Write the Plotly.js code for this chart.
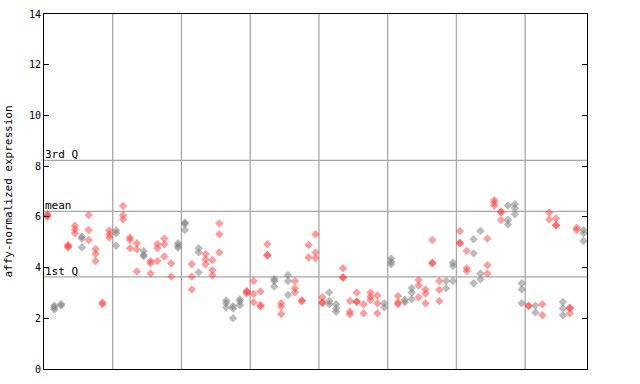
<!DOCTYPE html>
<html><head><meta charset="utf-8">
<script src="https://cdn.plot.ly/plotly-3.0.1.min.js"></script>
<style>html,body{margin:0;padding:0;background:#fff}#chart{width:640px;height:384px}</style>
</head><body><div id="chart"></div>
<script>
// expression values per sample column (1..79)
const columnValues = [
  [6.05,6.1,6.0],[2.5,2.35,2.43],[2.56,2.5],[4.89,4.8,4.84],[5.65,5.5,5.35],
  [5.22,5.15,4.8],[6.07,5.48,5.09],[4.73,4.54,4.26],[2.62,2.55],[5.46,5.31,5.19],
  [5.46,5.35,4.86],[6.43,6.06,5.9],[5.19,5.09,4.76],[4.96,4.72,3.85],[4.65,4.5,4.45],
  [4.26,4.17,3.77],[4.93,4.76,4.26],[5.15,4.92,4.44],[4.17,3.65],[4.96,4.86,4.78],
  [5.78,5.72,5.48],[4.13,3.65,3.14],[4.76,4.6,3.81],[4.54,4.33,4.13],[4.3,3.9,3.7],
  [5.74,5.31,4.6],[2.7,2.59,2.43],[2.48,2.39,2.0],[2.75,2.66,2.52],[3.08,2.98,3.05],
  [3.47,2.96,2.63],[3.06,2.52,2.46],[4.92,4.5,4.48],[3.55,3.47,3.25],[2.59,2.46,2.17],
  [3.71,3.47,2.92],[3.47,3.18,3.02],[2.7,2.68],[4.89,4.4],[5.31,4.59,4.37],
  [2.83,2.62,2.6],[3.02,2.68,2.55],[2.55,2.39,2.26],[3.97,3.6,3.62],[2.68,2.26,2.16],
  [3.02,2.66,2.64],[2.55,2.2],[3.02,2.85,2.72],[2.9,2.59,2.2],[2.59,2.43],
  [4.36,4.23,4.13],[2.88,2.62,2.55],[2.72,2.63],[3.19,3.02,2.75],[3.51,3.29,2.83],
  [3.14,2.98,2.59],[5.09,4.19,4.17],[3.47,3.12,2.68],[3.47,3.18],[4.19,4.06,3.47],
  [5.44,4.98,4.96],[4.65,3.97,3.86],[5.12,4.56,3.38],[5.44,3.77,3.54],[5.15,4.09,3.77],
  [6.66,6.56,6.44],[6.2,6.18,5.88],[6.45,5.88,5.7],[6.5,6.34,6.1],[3.38,3.14,2.59],
  [2.5,2.48],[2.5,2.23],[2.55,2.12],[6.17,5.9],[5.94,5.68,5.66],
  [2.64,2.39,2.12],[2.42,2.4,2.2],[5.57,5.48],[5.48,5.35,5.05]
];
// colour group per column: 'r' red, 'g' grey
const columnGroup = [
  'r','g','g','r','r','g','r','r','r','r',
  'g','r','r','r','g','r','r','r','r','g',
  'g','r','g','r','r','r','g','g','g','r',
  'r','r','r','g','r','g','r','r','r','r',
  'r','g','g','r','r','r','r','r','r','g',
  'g','r','g','g','r','r','r','r','g','g',
  'r','r','g','g','r','r','r','g','g','g',
  'r','g','r','r','r','g','r','r','g'
];
const quartileValues = [8.23, 6.22, 3.63];
const quartileLabels = ['3rd Q', 'mean', '1st Q'];
const yTickValues = [0,2,4,6,8,10,12,14];
const gridPositions = [10.5,20.5,30.5,40.5,50.5,60.5,70.5];

const groups = {r:{x:[],y:[],color:'rgba(255,60,60,0.5)'}, g:{x:[],y:[],color:'rgba(120,120,120,0.5)'}};
columnValues.forEach((vals,i)=>{
  const g = groups[columnGroup[i]];
  vals.forEach(v=>{g.x.push(i+1); g.y.push(v);});
});
const traces = ['g','r'].map(k=>({
  type:'scatter', mode:'markers', x:groups[k].x, y:groups[k].y,
  marker:{symbol:'diamond', size:6.5, color:groups[k].color, line:{width:0}},
  hoverinfo:'y', showlegend:false
}));

const shapes = [];
gridPositions.forEach(p=>shapes.push({type:'line', xref:'x', yref:'paper', x0:p, x1:p, y0:0, y1:1, line:{color:'#a8a8a8', width:1.3}, layer:'below'}));
quartileValues.forEach(v=>shapes.push({type:'line', xref:'paper', yref:'y', x0:0, x1:1, y0:v, y1:v, line:{color:'#a8a8a8', width:1.3}, layer:'below'}));
const annotations = quartileValues.map((v,i)=>({
  xref:'paper', yref:'y', x:0, y:v, text:quartileLabels[i], showarrow:false,
  xanchor:'left', yanchor:'bottom', xshift:-1, yshift:-3,
  font:{family:'DejaVu Sans Mono, monospace', size:11, color:'#000'}
}));

const layout = {
  width:640, height:384,
  margin:{l:44, r:53, t:14, b:15},
  paper_bgcolor:'#fff', plot_bgcolor:'#fff',
  showlegend:false,
  xaxis:{range:[0.5,79.5], showticklabels:false, ticks:'', showgrid:false, zeroline:false,
         showline:true, linecolor:'#000', linewidth:1, mirror:true},
  yaxis:{range:[0,14], tickvals:yTickValues, ticktext:yTickValues.map(String), ticks:'inside', ticklen:5,
         tickcolor:'#000', showgrid:false, zeroline:false, showline:true, linecolor:'#000', linewidth:1,
         mirror:'ticks', tickfont:{family:'DejaVu Sans Mono, monospace', size:10, color:'#000'},
         title:{text:'affy-normalized expression', font:{family:'DejaVu Sans Mono, monospace', size:11, color:'#000'}, standoff:14}},
  shapes:shapes, annotations:annotations
};
Plotly.newPlot('chart', traces, layout, {staticPlot:true, displayModeBar:false});
</script></body></html>
